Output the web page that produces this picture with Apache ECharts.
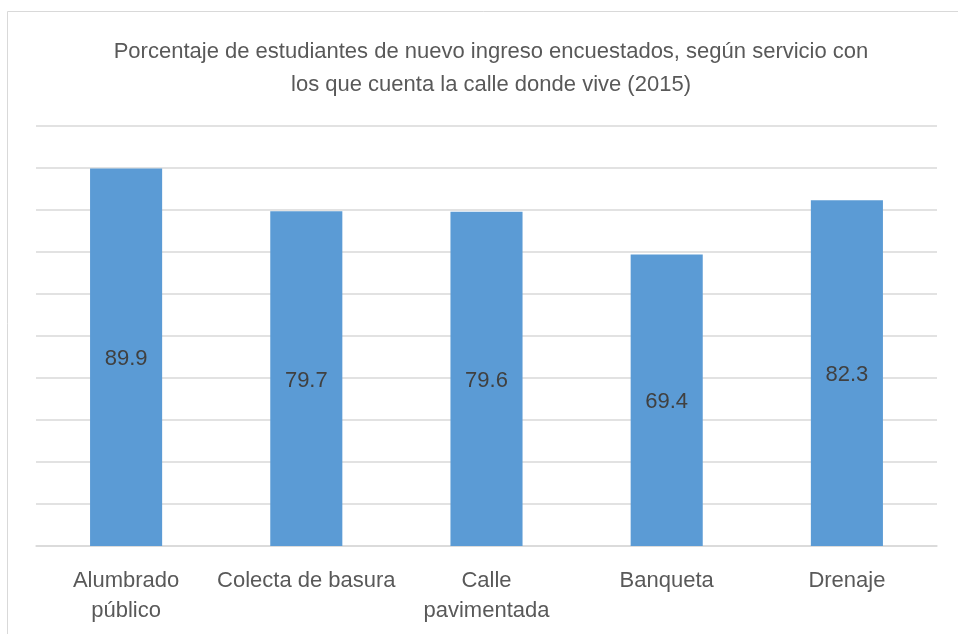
<!DOCTYPE html>
<html>
<head>
<meta charset="utf-8">
<script src="https://cdn.jsdelivr.net/npm/echarts@6/dist/echarts.min.js"></script>
<style>
  html, body { margin: 0; padding: 0; background: #fff; }
  #main { width: 958px; height: 634px; }
</style>
</head>
<body>
<div id="main"></div>
<script>
var categories = ['Alumbrado\npúblico', 'Colecta de basura', 'Calle\npavimentada', 'Banqueta', 'Drenaje'];
var values = [89.9, 79.7, 79.6, 69.4, 82.3];

var font = '"Liberation Sans", Arial, sans-serif';

var chart = echarts.init(document.getElementById('main'));
chart.setOption({
  animation: false,
  backgroundColor: '#fff',
  title: {
    text: 'Porcentaje de estudiantes de nuevo ingreso encuestados, según servicio con\nlos que cuenta la calle donde vive (2015)',
    left: 486,
    top: 30,
    textAlign: 'center',
    textStyle: {
      fontFamily: font,
      fontSize: 22,
      fontWeight: 'normal',
      color: '#595959',
      lineHeight: 33
    }
  },
  graphic: [{
    type: 'rect',
    shape: { x: 7.5, y: 11.5, width: 1000, height: 1000 },
    style: { fill: 'none', stroke: '#d9d9d9', lineWidth: 1 },
    silent: true
  }],
  grid: { left: 36, right: 21, top: 126, bottom: 88 },
  xAxis: {
    type: 'category',
    data: categories,
    axisTick: { show: false },
    axisLine: { lineStyle: { color: '#d9d9d9', width: 1.5 } },
    axisLabel: {
      fontFamily: font,
      fontSize: 22,
      color: '#595959',
      lineHeight: 30,
      margin: 20,
      interval: 0
    }
  },
  yAxis: {
    type: 'value',
    min: 0,
    max: 100,
    interval: 10,
    axisLabel: { show: false },
    axisLine: { show: false },
    axisTick: { show: false },
    splitLine: { lineStyle: { color: '#d9d9d9', width: 1.5 } }
  },
  series: [{
    type: 'bar',
    data: values,
    barWidth: '40%',
    itemStyle: { color: '#5b9bd5' },
    label: {
      show: true,
      position: 'inside',
      offset: [0, 2],
      fontFamily: font,
      fontSize: 22,
      color: '#404040',
      formatter: function (p) { return p.value.toFixed(1); }
    }
  }]
});
</script>
</body>
</html>
